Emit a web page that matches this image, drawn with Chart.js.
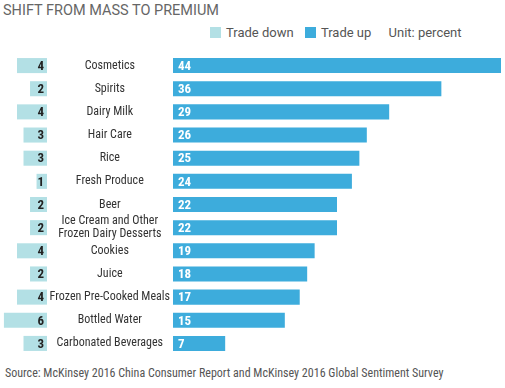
<!DOCTYPE html>
<html>
<head>
<meta charset="utf-8">
<script src="https://cdn.jsdelivr.net/npm/chart.js@4"></script>
<style>
    body { margin: 0; background: #fff; width: 505px; height: 388px; position: relative; overflow: hidden; font-family: Roboto, "Liberation Sans", Arial, sans-serif; }
    #title { position: absolute; left: 3px; top: 2px; font-size: 14.5px; color: #666; }
    #legend { position: absolute; left: 210px; top: 25px; font-size: 13px; color: #555; white-space: nowrap; }
    #legend span.sw { display: inline-block; width: 11px; height: 11px; vertical-align: -1px; margin-right: 5px; }
    #source { position: absolute; left: 5px; top: 366px; font-family: "Roboto Condensed", Roboto, sans-serif; font-size: 12px; color: #555; white-space: nowrap; }
    #downBox { position: absolute; left: 0; top: 54px; width: 47px; height: 301px; }
    #upBox { position: absolute; left: 47px; top: 54px; width: 458px; height: 301px; }
</style>
</head>
<body>
<div id="title">SHIFT FROM MASS TO PREMIUM</div>
<div id="legend">
    <span class="sw" style="background:#b3e0e5"></span>Trade down
    <span class="sw" style="background:#3dacdc; margin-left:8px"></span>Trade up
    <span style="margin-left:14px">Unit: percent</span>
</div>
<div id="downBox"><canvas id="downChart"></canvas></div>
<div id="upBox"><canvas id="upChart"></canvas></div>
<div id="source">Source: McKinsey 2016 China Consumer Report and McKinsey 2016 Global Sentiment Survey</div>
<script>
// Data
const categories = ['Cosmetics', 'Spirits', 'Dairy Milk', 'Hair Care', 'Rice', 'Fresh Produce', 'Beer',
    ['Ice Cream and Other', 'Frozen Dairy Desserts'], 'Cookies', 'Juice', 'Frozen Pre-Cooked Meals',
    'Bottled Water', 'Carbonated Beverages'];
const tradeDown = [4, 2, 4, 3, 3, 1, 2, 2, 4, 2, 4, 6, 3];
const tradeUp = [44, 36, 29, 26, 25, 24, 22, 22, 19, 18, 17, 15, 7];

const downColor = '#b3e0e5';
const upColor = '#3dacdc';
const condensed = '"Roboto Condensed", Roboto, sans-serif';

// Draw value labels on the bars
const barLabels = {
    id: 'barLabels',
    afterDatasetsDraw(chart, args, opts) {
        const ctx = chart.ctx;
        const meta = chart.getDatasetMeta(0);
        ctx.save();
        ctx.font = 'bold 13px ' + condensed;
        ctx.fillStyle = opts.color;
        ctx.textBaseline = 'middle';
        meta.data.forEach((bar, i) => {
            const v = chart.data.datasets[0].data[i];
            if (opts.side === 'left') {
                ctx.textAlign = 'right';
                ctx.fillText(v, bar.base - 3, bar.y + 1);
            } else {
                ctx.textAlign = 'left';
                ctx.fillText(v, bar.base + 5, bar.y + 1);
            }
        });
        ctx.restore();
    }
};

// Trade down: bars grow to the left, with a small stub so the 1s stay visible
new Chart(document.getElementById('downChart'), {
    type: 'bar',
    data: {
        labels: categories,
        datasets: [{
            label: 'Trade down',
            data: tradeDown,
            base: -0.6,
            backgroundColor: downColor,
            barPercentage: 0.65,
            categoryPercentage: 1
        }]
    },
    options: {
        indexAxis: 'y',
        responsive: true,
        maintainAspectRatio: false,
        animation: false,
        layout: { padding: 0 },
        scales: {
            x: { display: false, reverse: true, min: -0.6, max: 6.6 },
            y: { display: false }
        },
        plugins: {
            legend: { display: false },
            tooltip: { enabled: false },
            barLabels: { side: 'left', color: '#222' }
        }
    },
    plugins: [barLabels]
});

// Trade up, with the category names on its y axis
new Chart(document.getElementById('upChart'), {
    type: 'bar',
    data: {
        labels: categories,
        datasets: [{
            label: 'Trade up',
            data: tradeUp,
            backgroundColor: upColor,
            barPercentage: 0.65,
            categoryPercentage: 1
        }]
    },
    options: {
        indexAxis: 'y',
        responsive: true,
        maintainAspectRatio: false,
        animation: false,
        layout: { padding: { left: 0, right: 4, top: 0, bottom: 0 } },
        scales: {
            x: { display: false, min: 0, max: 44 },
            y: {
                grid: { display: false, drawTicks: false },
                border: { display: false },
                ticks: {
                    autoSkip: false,
                    color: '#333',
                    padding: 3,
                    crossAlign: 'center',
                    font: { family: condensed, size: 12, lineHeight: 1.05 }
                },
                afterFit(scale) {
                    scale.width = 126;
                    scale.paddingTop = 0;
                    scale.paddingBottom = 0;
                }
            }
        },
        plugins: {
            legend: { display: false },
            tooltip: { enabled: false },
            barLabels: { side: 'right', color: '#fff' }
        }
    },
    plugins: [barLabels]
});
</script>
</body>
</html>
